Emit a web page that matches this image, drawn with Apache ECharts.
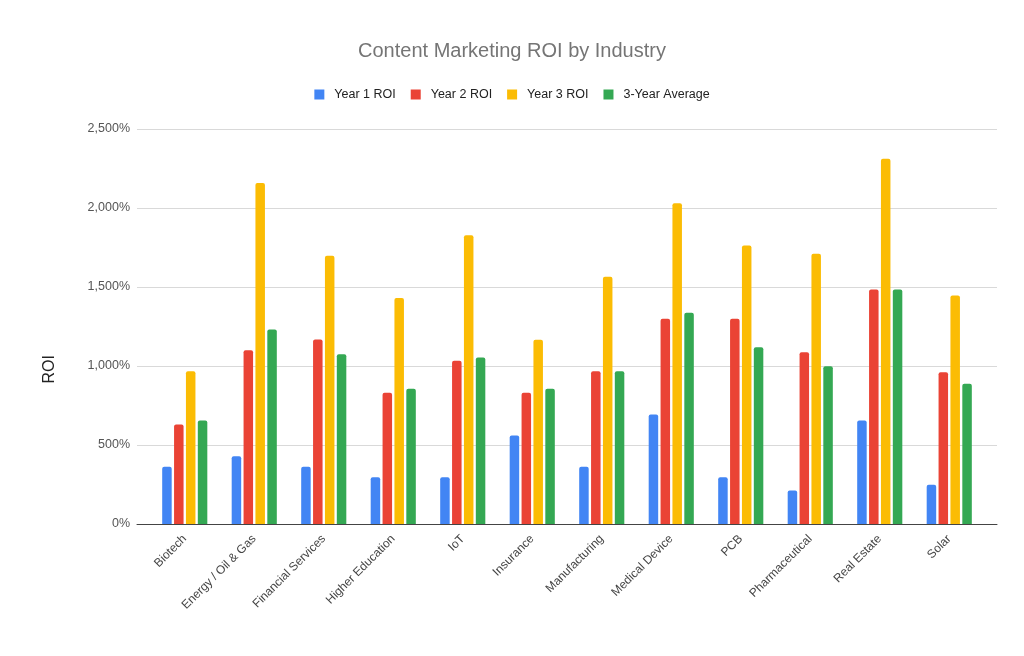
<!DOCTYPE html>
<html><head><meta charset="utf-8">
<script src="https://cdn.jsdelivr.net/npm/echarts@6/dist/echarts.min.js"></script>
<style>html,body{margin:0;padding:0;background:#fff}#c{width:1024px;height:656px}</style>
</head><body><div id="c"></div>
<script>
const categories = ["Biotech","Energy / Oil & Gas","Financial Services","Higher Education","IoT","Insurance","Manufacturing","Medical Device","PCB","Pharmaceutical","Real Estate","Solar"];
const year1 = [362,429,362,296,296,560,362,693,296,212,655,248];
const year2 = [630,1100,1168,830,1033,830,967,1299,1299,1087,1484,961];
const year3 = [967,2159,1697,1431,1828,1166,1565,2030,1763,1710,2311,1446];
const avg3  = [655,1231,1075,856,1054,856,967,1337,1119,999,1484,887];
const seriesNames = ["Year 1 ROI","Year 2 ROI","Year 3 ROI","3-Year Average"];
const colors = ["#4285F4","#EA4335","#FBBC04","#34A853"];
const yMin = 0, yMax = 2500, yStep = 500;

const font = "Arial, 'Liberation Sans', sans-serif";
const chart = echarts.init(document.getElementById('c'), null, {renderer:'canvas'});
const fmt = v => v.toLocaleString('en-US') + '%';
const mk = (name, data, i) => ({
  name, type:'bar', data, xAxisIndex:0, yAxisIndex:0,
  barWidth:9.5, barGap:'25%',
  itemStyle:{color:colors[i], borderRadius:[2,2,0,0]}
});
chart.setOption({
  animation:false,
  color: colors,
  textStyle:{fontFamily:font},
  title:{text:'Content Marketing ROI by Industry', left:'center', top:36,
    textStyle:{fontSize:20, fontWeight:'normal', color:'#757575', fontFamily:font}},
  legend:{top:83, left:'center', itemWidth:10, itemHeight:10, itemGap:15,
    icon:'rect', textStyle:{fontSize:12.5, color:'#222', fontFamily:font, padding:[0,0,0,5]},
    data:seriesNames},
  grid:[
    {left:150, right:40, top:129, bottom:132},
    {left:137, right:27, top:129, bottom:132}
  ],
  xAxis:[
    {type:'category', gridIndex:0, data:categories,
     axisLine:{show:false}, axisTick:{show:false},
     axisLabel:{rotate:45, interval:0, fontSize:12, color:'#444', margin:13, fontFamily:font}},
    {type:'value', gridIndex:1, min:0, max:1, show:true,
     axisLine:{show:true, lineStyle:{color:'#444', width:1}},
     axisTick:{show:false}, axisLabel:{show:false}, splitLine:{show:false}}
  ],
  yAxis:[
    {type:'value', gridIndex:0, min:yMin, max:yMax, interval:yStep, show:false, splitLine:{show:false}},
    {type:'value', gridIndex:1, min:yMin, max:yMax, interval:yStep,
     axisLine:{show:false}, axisTick:{show:false},
     axisLabel:{formatter:fmt, fontSize:12.5, color:'#555', margin:7, fontFamily:font},
     splitLine:{lineStyle:{color:'#d9d9d9', width:1}}}
  ],
  graphic:[{type:'text', left:42, top:355, rotation:Math.PI/2,
    style:{text:'ROI', fontSize:16, fill:'#222', fontFamily:font}}],
  series:[
    mk(seriesNames[0], year1, 0),
    mk(seriesNames[1], year2, 1),
    mk(seriesNames[2], year3, 2),
    mk(seriesNames[3], avg3, 3)
  ]
});
</script></body></html>
